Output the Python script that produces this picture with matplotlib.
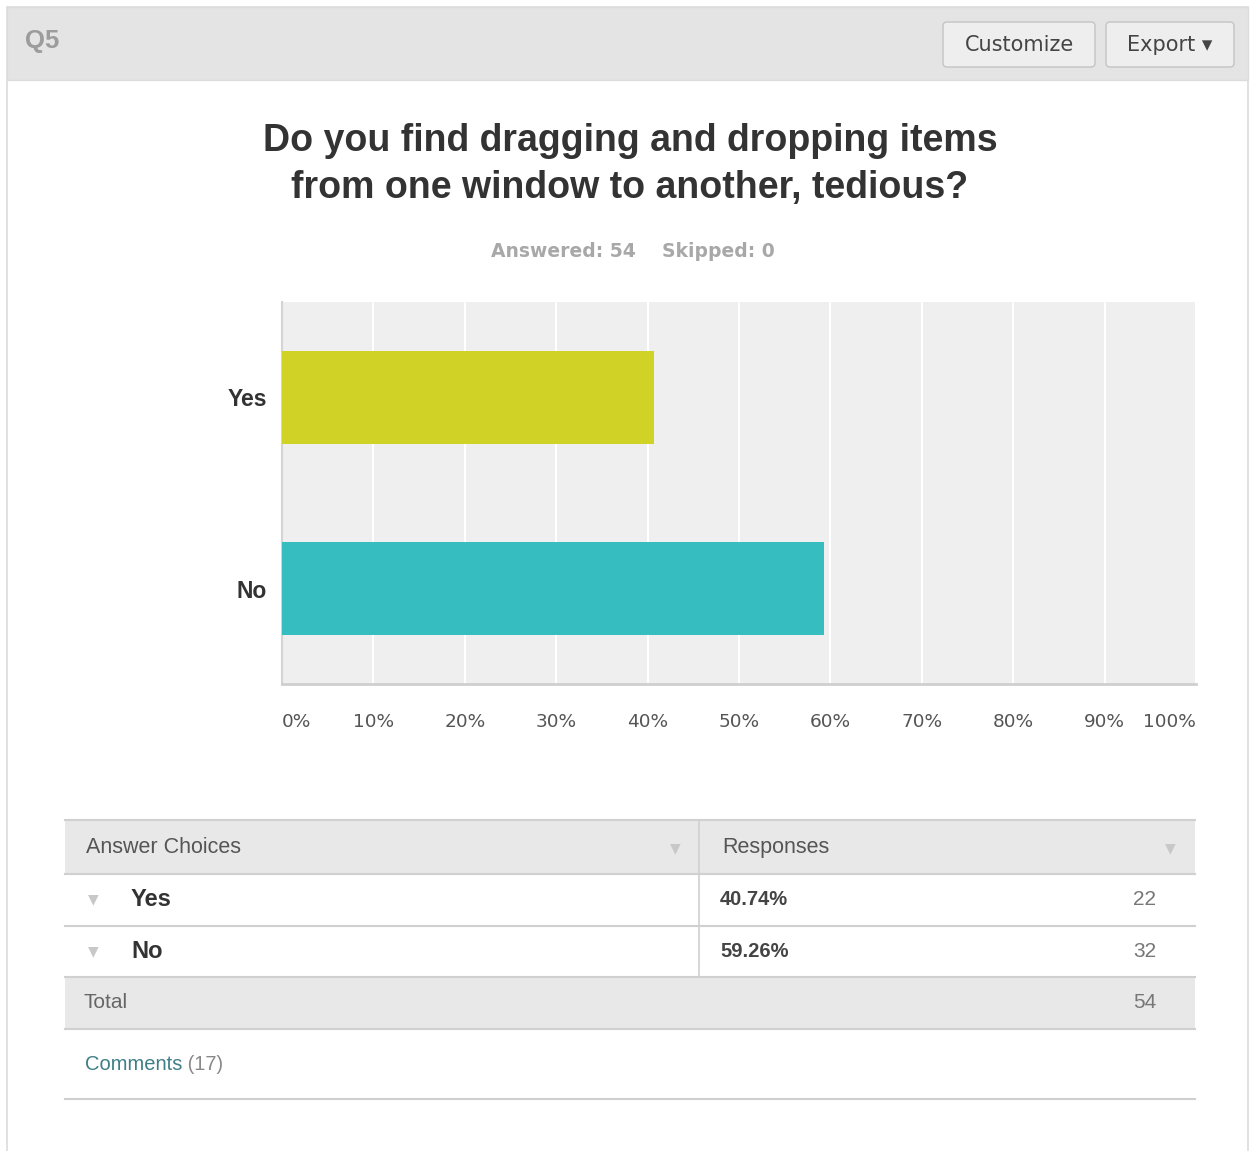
import matplotlib.pyplot as plt
from matplotlib.patches import Rectangle, FancyBboxPatch

categories = ['Yes', 'No']
percents = [40.74, 59.26]
counts = [22, 32]
bar_colors = ['#d0d326', '#35bdc0']
xticks = [0, 10, 20, 30, 40, 50, 60, 70, 80, 90, 100]
xtick_labels = ['%d%%' % t for t in xticks]
answered, skipped = 54, 0
n_comments = 17

W, H = 1251, 1151
SANS = ['Liberation Sans', 'DejaVu Sans']


def fr(x0, y0, x1, y1):
    # pixel box (top-left origin) -> figure fraction rect
    return [x0 / W, 1 - y1 / H, (x1 - x0) / W, (y1 - y0) / H]


fig = plt.figure(figsize=(W / 100, H / 100), dpi=100)
fig.patch.set_facecolor('white')

# page layer in pixel coordinates
bg = fig.add_axes([0, 0, 1, 1], zorder=0)
bg.set_xlim(0, W)
bg.set_ylim(H, 0)
bg.axis('off')

# panel + header band
bg.add_patch(Rectangle((7, 7), 1241, 1150, facecolor='white', edgecolor='#dcdcdc', lw=1.2))
bg.add_patch(Rectangle((7, 7), 1241, 73, facecolor='#e4e4e4', edgecolor='#dcdcdc', lw=1.0))
bg.text(25, 41, 'Q5', fontsize=18.5, fontweight='bold', color='#9c9c9c',
        family=SANS, va='center', ha='left')

for x0, x1, label in [(943, 1095, 'Customize'), (1106, 1234, 'Export \u25BE')]:
    bg.add_patch(FancyBboxPatch((x0, 22), x1 - x0, 45, boxstyle='round,pad=0,rounding_size=4',
                                facecolor='#eeeeee', edgecolor='#c4c4c4', lw=1.0))
    bg.text((x0 + x1) / 2, 45, label, fontsize=15, color='#444444',
            family=['DejaVu Sans'], ha='center', va='center')

# title block
bg.text(630, 141, 'Do you find dragging and dropping items', fontsize=27,
        fontweight='bold', color='#333333', family=SANS, ha='center', va='center')
bg.text(630, 188, 'from one window to another, tedious?', fontsize=27,
        fontweight='bold', color='#333333', family=SANS, ha='center', va='center')
bg.text(636, 251, 'Answered: %d' % answered, fontsize=13.5, fontweight='bold',
        color='#a8a8a8', family=['DejaVu Sans'], ha='right', va='center')
bg.text(662, 251, 'Skipped: %d' % skipped, fontsize=13.5, fontweight='bold',
        color='#a8a8a8', family=['DejaVu Sans'], ha='left', va='center')

# bar chart
ax = fig.add_axes(fr(282, 302, 1196, 684), zorder=1)
ax.set_facecolor('#efefef')
ax.barh(range(len(categories)), percents, height=0.49, color=bar_colors, zorder=3)
ax.set_xlim(0, 100)
ax.set_ylim(len(categories) - 0.5, -0.5)
ax.set_xticks(xticks)
ax.set_xticklabels(xtick_labels)
ax.set_yticks(range(len(categories)))
ax.set_yticklabels(categories)
ax.grid(axis='x', color='white', lw=1.5, zorder=1)
ax.tick_params(axis='both', length=0)
ax.tick_params(axis='x', pad=21, labelsize=13.3, labelcolor='#555555')
ax.tick_params(axis='y', pad=11, labelsize=16.5, labelcolor='#333333')
for lab in ax.get_yticklabels():
    lab.set_fontweight('bold')
    lab.set_family(SANS)
xl = ax.get_xticklabels()
xl[0].set_ha('left')
xl[-1].set_ha('right')
for s in ['top', 'right']:
    ax.spines[s].set_visible(False)
ax.spines['left'].set_color('#d4d4d4')
ax.spines['left'].set_linewidth(1.5)
ax.spines['bottom'].set_color('#cfcfcf')
ax.spines['bottom'].set_linewidth(2)

# summary table
tx0, tx1, tdiv = 65, 1195, 699
row_h = 51.5
top = 820
line_c = '#d0d0d0'
bg.add_patch(Rectangle((tx0, top), tx1 - tx0, 54, facecolor='#e8e8e8', edgecolor='none'))
bg.plot([tx0, tx1], [top, top], color=line_c, lw=1.5)
bg.plot([tx0, tx1], [top + 54, top + 54], color=line_c, lw=1.5)
bg.text(86, top + 27, 'Answer Choices', fontsize=15.5, color='#555555', family=SANS, va='center')
bg.text(722, top + 27, 'Responses', fontsize=15.5, color='#555555', family=SANS, va='center')
for tri_x in (675, 1170):
    bg.text(tri_x, top + 28, '\u25BC', fontsize=10, color='#c8c8c8', ha='center', va='center')

y = top + 54
for cat, pct, cnt in zip(categories, percents, counts):
    yc = y + row_h / 2
    bg.text(93, yc, '\u25BC', fontsize=10, color='#c8c8c8', ha='center', va='center')
    bg.text(131, yc, cat, fontsize=17, fontweight='bold', color='#333333', family=SANS, va='center')
    bg.text(720, yc, '%.2f%%' % pct, fontsize=14.5, fontweight='bold', color='#444444',
            family=SANS, va='center')
    bg.text(1156, yc, str(cnt), fontsize=15, color='#777777', family=SANS, ha='right', va='center')
    y += row_h
    bg.plot([tx0, tx1], [y, y], color=line_c, lw=1.5)
bg.plot([tdiv, tdiv], [top, y], color=line_c, lw=1.2)

bg.add_patch(Rectangle((tx0, y), tx1 - tx0, row_h, facecolor='#e8e8e8', edgecolor='none'))
bg.text(84, y + row_h / 2, 'Total', fontsize=15, color='#666666', family=SANS, va='center')
bg.text(1156, y + row_h / 2, str(sum(counts)), fontsize=15, color='#777777', family=SANS,
        ha='right', va='center')
y += row_h
bg.plot([tx0, tx1], [y, y], color=line_c, lw=1.5)

cm = bg.text(85, 1064, 'Comments', fontsize=14.5, color='#3f7f86', family=SANS, va='center')
bg.annotate(' (%d)' % n_comments, xycoords=cm, xy=(1, 0.5), va='center', fontsize=14.5,
            color='#888888', family=SANS)
bg.plot([tx0, tx1], [1099, 1099], color='#cfcfcf', lw=1.5)

fig.savefig('out.png', dpi=100)
